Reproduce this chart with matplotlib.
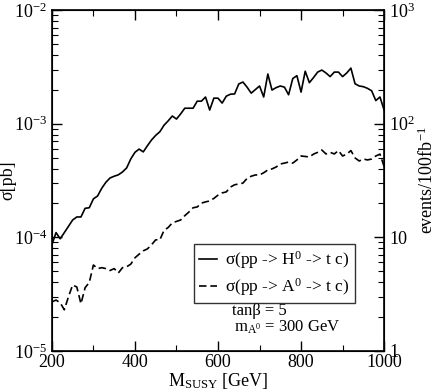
import matplotlib
matplotlib.use("Agg")
import matplotlib.pyplot as plt
import numpy as np
from matplotlib.ticker import FixedLocator, FixedFormatter, LogLocator, MultipleLocator, NullFormatter

plt.rcParams['font.family'] = ['Liberation Serif', 'DejaVu Serif']
plt.rcParams['mathtext.fontset'] = 'custom'
plt.rcParams['mathtext.rm'] = 'Liberation Serif'
plt.rcParams['mathtext.it'] = 'Liberation Serif:italic'
plt.rcParams['mathtext.bf'] = 'Liberation Serif:bold'

# M_SUSY in GeV, 10 GeV steps
m_susy = np.arange(200, 1001, 10)

# sigma(pp -> H0 -> t c) [pb]
sigma_H = [8.6e-5, 1.10e-4, 9.7e-5, 1.10e-4, 1.25e-4, 1.42e-4, 1.51e-4, 1.51e-4, 1.80e-4, 1.82e-4,
           2.18e-4, 2.31e-4, 2.70e-4, 3.05e-4, 3.33e-4, 3.45e-4, 3.55e-4, 3.76e-4, 4.08e-4, 4.90e-4,
           5.60e-4, 5.98e-4, 5.65e-4, 6.40e-4, 7.20e-4, 7.90e-4, 8.50e-4, 9.70e-4, 1.06e-3, 1.17e-3,
           1.10e-3, 1.22e-3, 1.37e-3, 1.37e-3, 1.37e-3, 1.58e-3, 1.58e-3, 1.72e-3, 1.32e-3, 1.68e-3,
           1.68e-3, 1.52e-3, 1.75e-3, 1.82e-3, 1.83e-3, 2.24e-3, 2.33e-3, 2.10e-3, 1.86e-3, 2.00e-3,
           2.15e-3, 1.72e-3, 2.74e-3, 1.98e-3, 2.08e-3, 2.15e-3, 2.10e-3, 1.80e-3, 2.50e-3, 2.65e-3,
           1.90e-3, 2.90e-3, 2.30e-3, 2.55e-3, 2.85e-3, 2.97e-3, 2.80e-3, 2.60e-3, 2.85e-3, 2.85e-3,
           2.60e-3, 2.80e-3, 3.09e-3, 2.25e-3, 2.15e-3, 2.12e-3, 2.05e-3, 1.95e-3, 1.60e-3, 1.72e-3,
           1.32e-3]

# sigma(pp -> A0 -> t c) [pb]
sigma_A = [2.70e-5, 2.80e-5, 2.65e-5, 2.30e-5, 3.00e-5, 3.80e-5, 3.65e-5, 2.60e-5, 3.60e-5, 4.00e-5,
           5.70e-5, 5.30e-5, 5.40e-5, 5.30e-5, 5.10e-5, 5.30e-5, 4.85e-5, 5.40e-5, 5.50e-5, 5.80e-5,
           6.60e-5, 7.10e-5, 7.60e-5, 7.90e-5, 8.60e-5, 9.50e-5, 9.50e-5, 1.15e-4, 1.22e-4, 1.34e-4,
           1.38e-4, 1.42e-4, 1.55e-4, 1.67e-4, 1.82e-4, 1.85e-4, 2.00e-4, 2.05e-4, 2.09e-4, 2.20e-4,
           2.35e-4, 2.46e-4, 2.51e-4, 2.77e-4, 2.90e-4, 2.95e-4, 3.00e-4, 3.30e-4, 3.45e-4, 3.54e-4,
           3.54e-4, 3.70e-4, 3.92e-4, 4.00e-4, 4.16e-4, 4.42e-4, 4.50e-4, 4.60e-4, 4.50e-4, 4.80e-4,
           5.20e-4, 5.15e-4, 5.10e-4, 5.40e-4, 5.60e-4, 5.87e-4, 5.42e-4, 5.60e-4, 5.42e-4, 5.80e-4,
           5.20e-4, 5.40e-4, 5.80e-4, 5.00e-4, 4.70e-4, 4.89e-4, 4.80e-4, 4.89e-4, 5.20e-4, 5.40e-4,
           4.20e-4]

labels = [r"σ(pp -> H$^0$ -> t c)", r"σ(pp -> A$^0$ -> t c)"]
right_ticks = [1, 10, 100, 1000]
right_ticklabels = ['1', '10', r'10$^2$', r'10$^3$']
lumi = 1e5  # 100 fb^-1 in pb^-1

fs = 13

fig = plt.figure(figsize=(4.36, 3.92), dpi=100)
ax = fig.add_axes([0.119, 0.105, 0.762, 0.869])

ax.plot(m_susy, sigma_H, color='black', lw=1.2, label=labels[0])
ax.plot(m_susy, sigma_A, color='black', lw=1.2, dashes=(4.5, 2.3), label=labels[1])

ax.set_yscale('log')
ax.set_xlim(200, 1000)
ax.set_ylim(1e-5, 1e-2)
ax.xaxis.set_major_locator(MultipleLocator(200))
ax.xaxis.set_minor_locator(MultipleLocator(100))
ax.yaxis.set_minor_locator(LogLocator(base=10, subs=np.arange(2, 10)))
ax.yaxis.set_minor_formatter(NullFormatter())
ax.tick_params(which='both', direction='in', top=True, right=False, labelsize=fs)
ax.tick_params(which='major', length=7, width=1)
ax.tick_params(which='minor', length=4, width=0.8)
ax.tick_params(axis='x', pad=2)
for s in ax.spines.values():
    s.set_linewidth(1.2)

ax.set_xlabel(r"M$_{\mathrm{SUSY}}$ [GeV]", fontsize=fs, labelpad=0)
ax.set_ylabel("σ[pb]", fontsize=fs)
ax.yaxis.set_label_coords(-0.108, 0.5)

# right axis: events / 100 fb^-1
ax2 = ax.twinx()
ax2.set_yscale('log')
ax2.set_ylim(1e-5 * lumi, 1e-2 * lumi)
ax2.yaxis.set_major_locator(FixedLocator(right_ticks))
ax2.yaxis.set_major_formatter(FixedFormatter(right_ticklabels))
ax2.yaxis.set_minor_locator(LogLocator(base=10, subs=np.arange(2, 10)))
ax2.yaxis.set_minor_formatter(NullFormatter())
ax2.tick_params(which='both', direction='in', labelsize=fs)
ax2.tick_params(which='major', length=7, width=1)
ax2.tick_params(which='minor', length=4, width=0.8)
ax2.set_ylabel(r"events/100fb$^{-1}$", fontsize=fs, labelpad=2)

leg = ax.legend(loc='upper left', bbox_to_anchor=(0.428, 0.314), fontsize=12.5,
                frameon=True, fancybox=False, edgecolor='black', handlelength=1.0,
                borderpad=0.3, labelspacing=0.3, handletextpad=0.5, borderaxespad=0)
leg.get_frame().set_linewidth(1.0)

ax.text(0.542, 0.104, r"tanβ = 5", transform=ax.transAxes, fontsize=12, va='baseline')
ax.text(0.548, 0.056, r"m$_{\mathrm{A}^0}$ = 300 GeV", transform=ax.transAxes,
        fontsize=12, va='baseline')

fig.savefig("out.png", dpi=100)
